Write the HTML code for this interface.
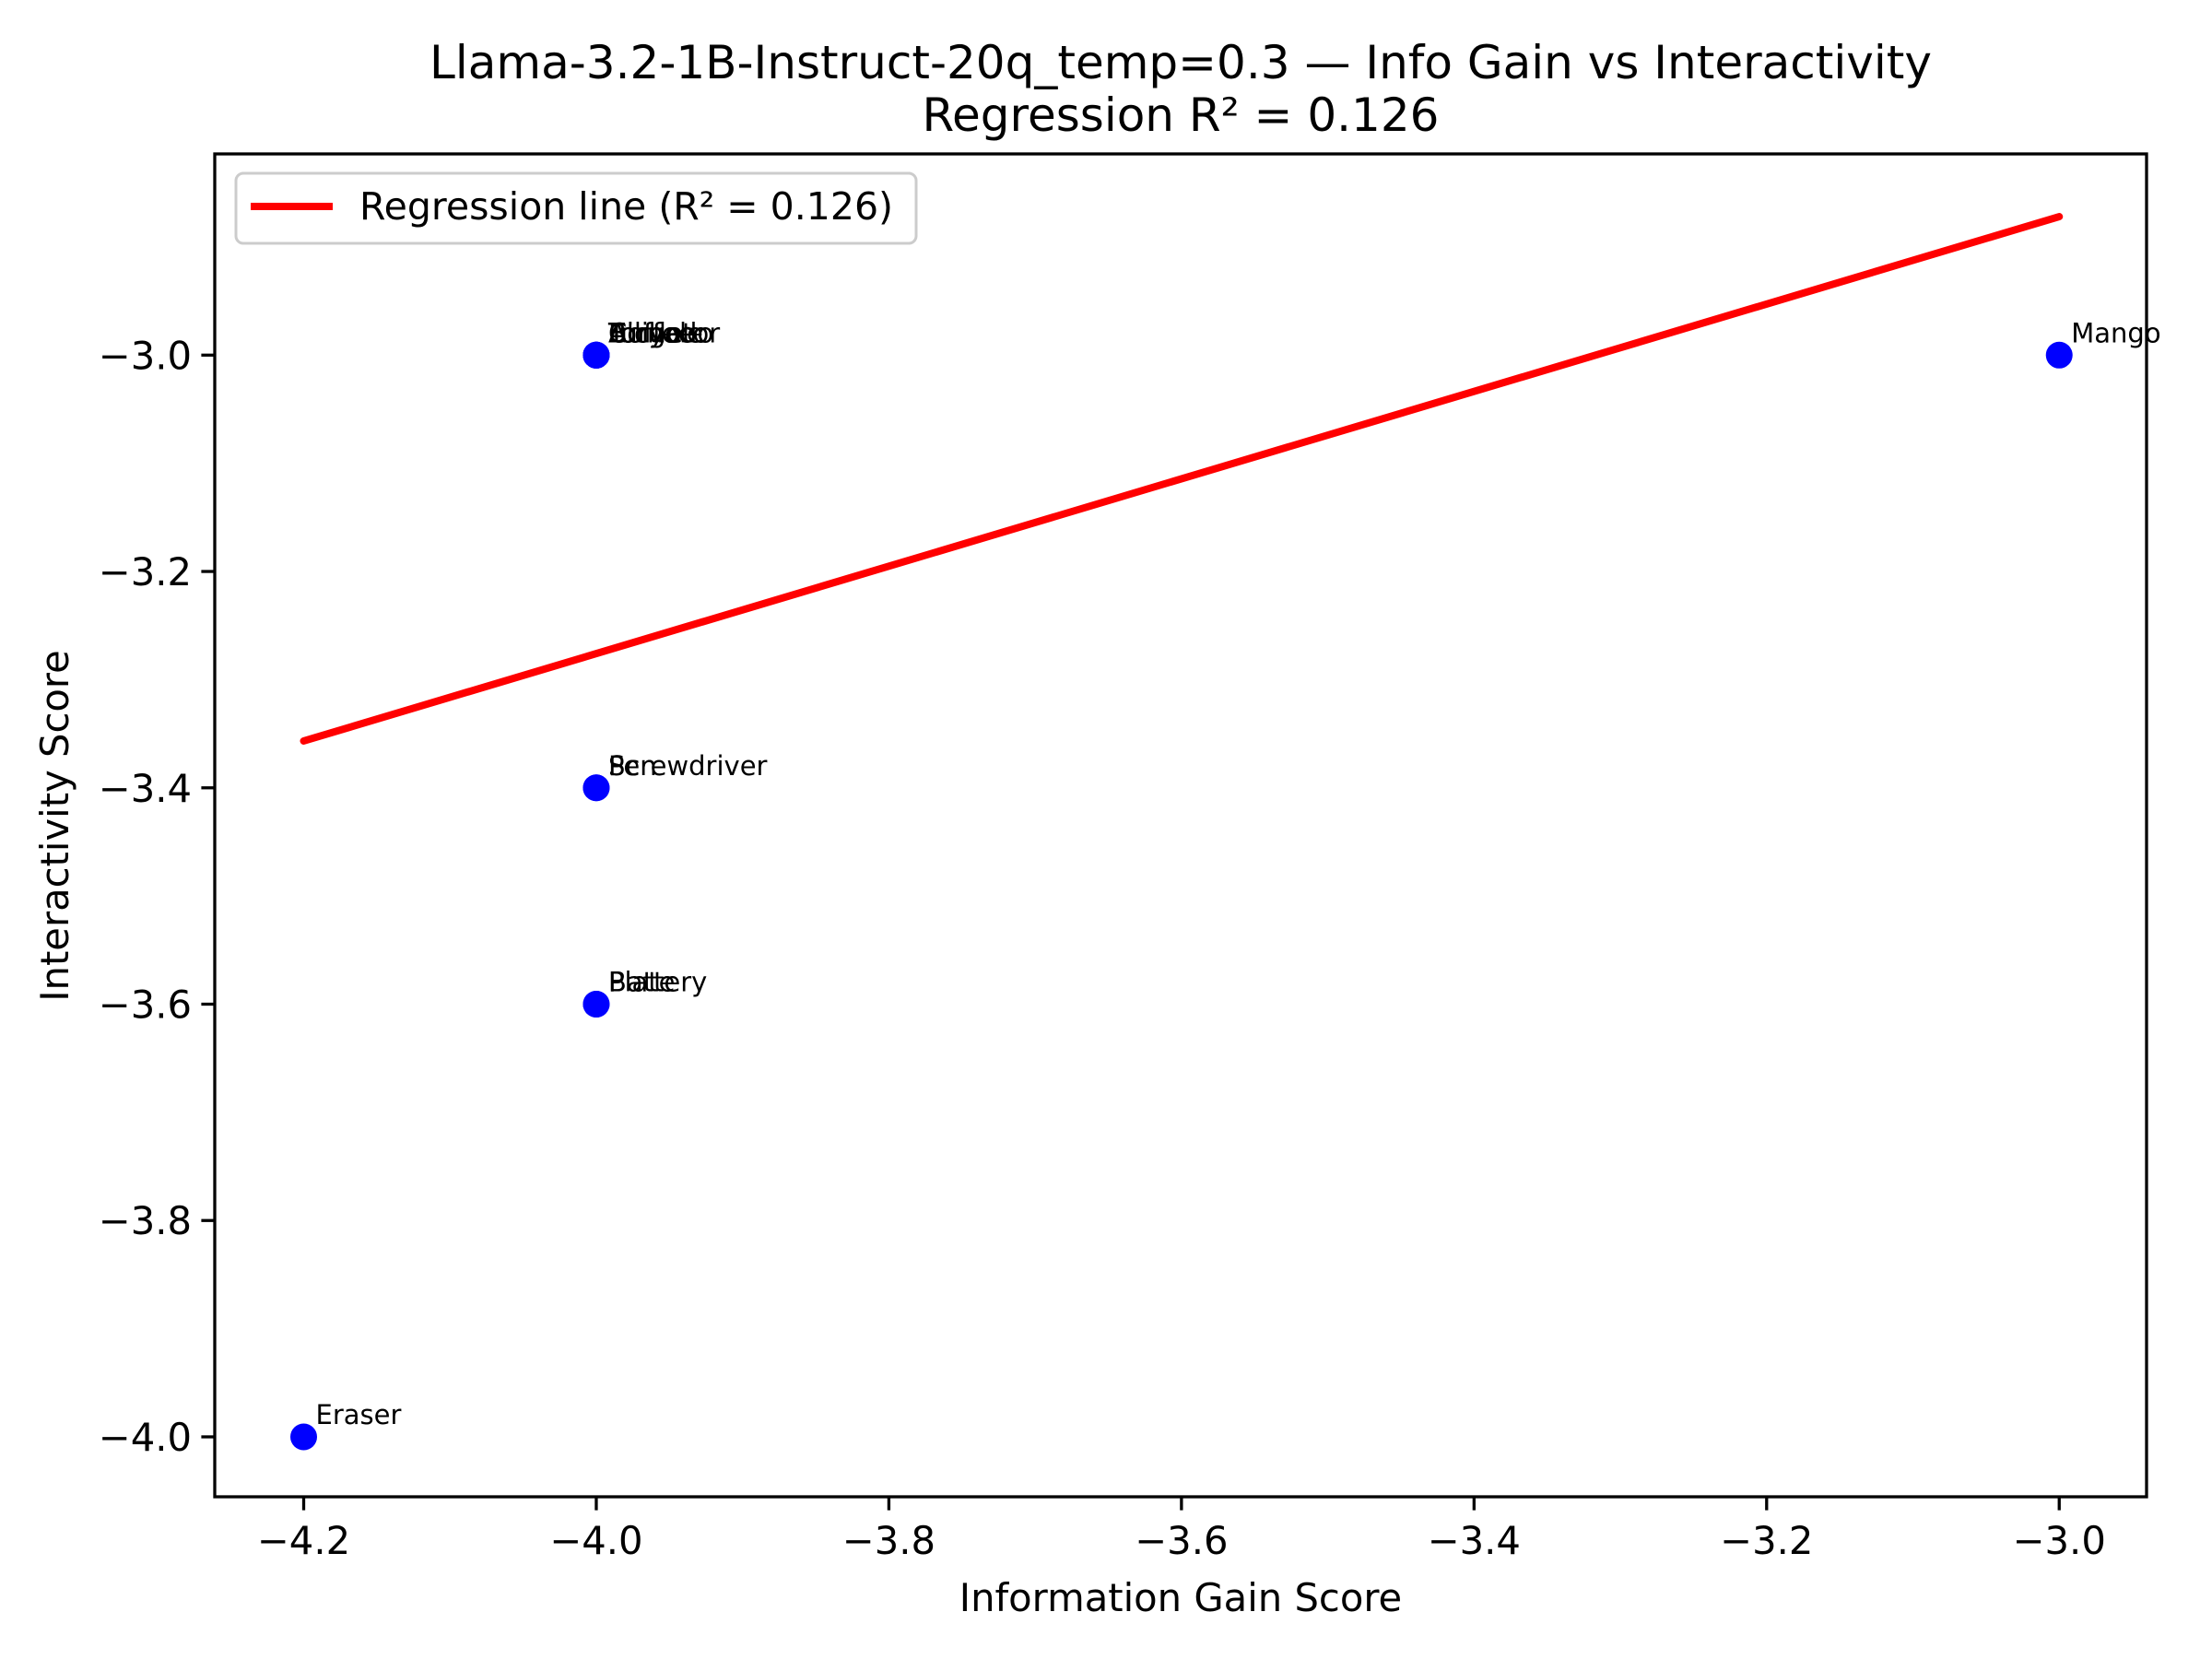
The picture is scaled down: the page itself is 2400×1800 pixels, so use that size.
<!DOCTYPE html>
<html><head><meta charset="utf-8"><style>
html,body{margin:0;padding:0;background:#fff;}
svg{display:block;font-family:"DejaVu Sans","Liberation Sans",sans-serif;}
</style></head><body>
<svg id="chart" width="2400" height="1800" viewBox="0 0 2400 1800">
<rect width="2400" height="1800" fill="#fff"/>
<text x="1281" y="85" font-size="50" text-anchor="middle">Llama-3.2-1B-Instruct-20q_temp=0.3 — Info Gain vs Interactivity</text>
<text x="1281" y="142" font-size="50" text-anchor="middle">Regression R² = 0.126</text>
<g id="plot"></g>
<rect x="233" y="167" width="2096" height="1457" fill="none" stroke="#000" stroke-width="3.3"/>
<text x="1281" y="1748" font-size="41.7" text-anchor="middle">Information Gain Score</text>
<text x="0" y="0" font-size="41.7" text-anchor="middle" transform="translate(74,896) rotate(-90)">Interactivity Score</text>
<g>
<rect x="256" y="188" width="738" height="76" rx="8" fill="#fff" fill-opacity="0.8" stroke="#ccc" stroke-width="3"/>
<line x1="272" y1="224" x2="361" y2="224" stroke="#f00" stroke-width="8"/>
<text x="390" y="238" font-size="41">Regression line (R² = 0.126)</text>
</g>
</svg>
<script>
const pointX = [-4.0,-4.0,-4.0,-4.0,-4.0,-4.0,-4.0,-4.0,-4.0,-3.0,-4.2];
const pointY = [-3.0,-3.0,-3.0,-3.0,-3.0,-3.4,-3.4,-3.6,-3.6,-3.0,-4.0];
const pointLabels = ["Tornado","Bicycle","Coffee","Turtle","Alligator","Pen","Screwdriver","Plate","Battery","Mango","Eraser"];
const regX = [-4.2,-3.0];
const regY = [-3.3567,-2.872];
const xTicks = [-4.2,-4.0,-3.8,-3.6,-3.4,-3.2,-3.0];
const yTicks = [-4.0,-3.8,-3.6,-3.4,-3.2,-3.0];

const L=233,R=2329,T=167,B=1624;
const xMin=-4.2608,xMax=-2.9403,yMin=-4.0554,yMax=-2.8140;
const sx=v=>L+(v-xMin)/(xMax-xMin)*(R-L);
const sy=v=>B-(v-yMin)/(yMax-yMin)*(B-T);
const NS="http://www.w3.org/2000/svg";
const g=document.getElementById('plot');
function mk(t,a){const e=document.createElementNS(NS,t);for(const k in a)e.setAttribute(k,a[k]);return e;}
const fmt=v=>(v<0?"\u2212":"")+Math.abs(v).toFixed(1);
xTicks.forEach(v=>{
  const t=mk('line',{x1:sx(v),x2:sx(v),y1:B,y2:B+14.6,stroke:'#000','stroke-width':3.3});
  
  
  g.appendChild(t);
  const l=mk('text',{x:sx(v),y:B+62,'font-size':41.7,'text-anchor':'middle'});
  l.textContent=fmt(v);
  
  
  g.appendChild(l);
});
yTicks.forEach(v=>{
  const t=mk('line',{x1:L-14.6,x2:L,y1:sy(v),y2:sy(v),stroke:'#000','stroke-width':3.3});
  
  
  g.appendChild(t);
  const l=mk('text',{x:L-25,y:sy(v)+15,'font-size':41.7,'text-anchor':'end'});
  l.textContent=fmt(v);
  
  
  g.appendChild(l);
});
pointX.forEach((v,i)=>{
  const c=mk('circle',{cx:sx(v),cy:sy(pointY[i]),r:14.5,fill:'#0000ff'});
  
  
  g.appendChild(c);
  const t=mk('text',{x:sx(v)+13,y:sy(pointY[i])-14,'font-size':29});
  t.textContent=pointLabels[i];
  
  
  g.appendChild(t);
});
const rl=mk('line',{x1:sx(regX[0]),y1:sy(regY[0]),x2:sx(regX[1]),y2:sy(regY[1]),stroke:'#ff0000','stroke-width':8,'stroke-linecap':'round'});


g.appendChild(rl);
</script>
</body></html>
